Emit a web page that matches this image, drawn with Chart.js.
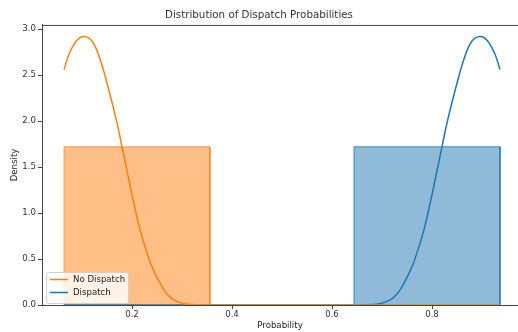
<!DOCTYPE html>
<html>
<head>
<meta charset="utf-8">
<script src="https://cdn.jsdelivr.net/npm/chart.js@4/dist/chart.umd.min.js"></script>
<style>
  html, body { margin: 0; padding: 0; background: #fff; overflow: hidden; }
</style>
</head>
<body>
<canvas id="histChart" width="518" height="332"></canvas>
<script>
// histogram bins (shared edges) + density per bin
const binEdges = [0.064, 0.356, 0.644, 0.936];
const noDispatchDensity = [1.72, 0, 0];
const dispatchDensity = [0, 0, 1.72];

// KDE curves
const noDispatchX = [0.064, 0.075, 0.09, 0.104, 0.12, 0.135, 0.154, 0.17, 0.18, 0.19, 0.20, 0.216, 0.236, 0.25, 0.26, 0.27, 0.282, 0.30, 0.32, 0.35, 0.936];
const noDispatchY = [2.56, 2.74, 2.88, 2.92, 2.87, 2.69, 2.33, 1.98, 1.72, 1.46, 1.20, 0.82, 0.47, 0.30, 0.20, 0.12, 0.06, 0.02, 0.005, 0, 0];
const dispatchX = [0.064, 0.65, 0.68, 0.70, 0.718, 0.73, 0.74, 0.75, 0.764, 0.784, 0.80, 0.81, 0.82, 0.83, 0.846, 0.865, 0.88, 0.896, 0.91, 0.925, 0.936];
const dispatchY = [0, 0, 0.005, 0.02, 0.06, 0.12, 0.20, 0.30, 0.47, 0.82, 1.20, 1.46, 1.72, 1.98, 2.33, 2.69, 2.87, 2.92, 2.88, 2.74, 2.56];

const yTicks = [0, 0.5, 1.0, 1.5, 2.0, 2.5, 3.0];
const xTicks = [0.2, 0.4, 0.6, 0.8];

const FONT = "'DejaVu Sans', sans-serif";
const ORANGE = "#ff7f0e";
const BLUE = "#1f77b4";

// turn bins into closed rectangles (only bins with height)
function binsToPoints(edges, heights) {
  const pts = [];
  heights.forEach((h, i) => {
    if (h <= 0) return;
    pts.push({ x: edges[i], y: 0 }, { x: edges[i], y: h }, { x: edges[i + 1], y: h }, { x: edges[i + 1], y: 0 });
  });
  return pts;
}

function zip(xs, ys) {
  return xs.map((x, i) => ({ x: x, y: ys[i] }));
}

/* ---- frame top spine + legend box in lower-left ---- */
const framePlugin = {
  id: "frame",
  afterDraw(chart) {
    const { ctx, chartArea } = chart;
    ctx.save();
    ctx.strokeStyle = "#444";
    ctx.lineWidth = 1;
    ctx.beginPath();
    ctx.moveTo(chartArea.left, chartArea.top + 0.5);
    ctx.lineTo(chartArea.right, chartArea.top + 0.5);
    ctx.stroke();

    // legend
    const items = chart.data.datasets.filter((d) => d.showInLegend);
    const bx = 46, by = 272, bw = 82, bh = 31;
    ctx.fillStyle = "rgba(255,255,255,0.8)";
    ctx.strokeStyle = "#d0d0d0";
    ctx.beginPath();
    ctx.roundRect(bx + 0.5, by + 0.5, bw, bh, 2);
    ctx.fill();
    ctx.stroke();
    ctx.font = "8.6px " + FONT;
    ctx.textBaseline = "middle";
    items.forEach((d, i) => {
      const y = by + 7.5 + i * 13;
      ctx.strokeStyle = d.borderColor;
      ctx.lineWidth = 1.5;
      ctx.beginPath();
      ctx.moveTo(bx + 4, y);
      ctx.lineTo(bx + 22, y);
      ctx.stroke();
      ctx.fillStyle = "#222";
      ctx.fillText(d.label, bx + 27, y);
    });
    ctx.restore();
  },
};

new Chart(document.getElementById("histChart"), {
  type: "line",
  data: {
    datasets: [
      {
        label: "No Dispatch",
        showInLegend: true,
        data: zip(noDispatchX, noDispatchY),
        borderColor: ORANGE,
        borderWidth: 1.5,
        pointRadius: 0,
        tension: 0.4,
        fill: false,
        order: 0,
      },
      {
        label: "Dispatch",
        showInLegend: true,
        data: zip(dispatchX, dispatchY),
        borderColor: BLUE,
        borderWidth: 1.5,
        pointRadius: 0,
        tension: 0.4,
        fill: false,
        order: 0,
      },
      {
        label: "No Dispatch hist",
        data: binsToPoints(binEdges, noDispatchDensity),
        borderColor: "rgba(240,120,10,0.6)",
        backgroundColor: "rgba(255,127,14,0.5)",
        borderWidth: 1,
        pointRadius: 0,
        tension: 0,
        fill: "origin",
        order: 1,
      },
      {
        label: "Dispatch hist",
        data: binsToPoints(binEdges, dispatchDensity),
        borderColor: "rgba(31,119,180,0.8)",
        backgroundColor: "rgba(31,119,180,0.5)",
        borderWidth: 1,
        pointRadius: 0,
        tension: 0,
        fill: "origin",
        order: 1,
      },
    ],
  },
  options: {
    responsive: false,
    animation: false,
    layout: { padding: 0 },
    plugins: {
      legend: { display: false },
      tooltip: { enabled: false },
      title: {
        display: true,
        text: "Distribution of Dispatch Probabilities",
        color: "#333",
        font: { family: FONT, size: 10.3, weight: "normal" },
        padding: { top: 9, bottom: 3.6 },
      },
    },
    scales: {
      x: {
        type: "linear",
        min: 0.02,
        max: 0.972,
        afterFit: (s) => { s.height = 27; },
        afterBuildTicks: (s) => { s.ticks = xTicks.map((v) => ({ value: v })); },
        grid: { drawOnChartArea: false, drawTicks: true, tickLength: 4, color: "#444" },
        border: { display: true, color: "#444", width: 1 },
        ticks: {
          color: "#333",
          font: { family: FONT, size: 8.6 },
          padding: 1,
          maxRotation: 0,
          callback: (v) => v.toFixed(1),
        },
        title: {
          display: true,
          text: "Probability",
          color: "#222",
          font: { family: FONT, size: 8.6 },
          padding: { top: 0, bottom: 1 },
        },
      },
      y: {
        min: 0,
        max: 3.045,
        afterFit: (s) => { s.width = 42; },
        afterBuildTicks: (s) => { s.ticks = yTicks.map((v) => ({ value: v })); },
        grid: { drawOnChartArea: false, drawTicks: true, tickLength: 4, color: "#444" },
        border: { display: true, color: "#444", width: 1 },
        ticks: {
          color: "#333",
          font: { family: FONT, size: 8.6 },
          padding: 2,
          callback: (v) => v.toFixed(1),
        },
        title: {
          display: true,
          text: "Density",
          color: "#222",
          font: { family: FONT, size: 8.6 },
          padding: { top: 10, bottom: 0 },
        },
      },
    },
  },
  plugins: [framePlugin],
});
</script>
</body>
</html>
